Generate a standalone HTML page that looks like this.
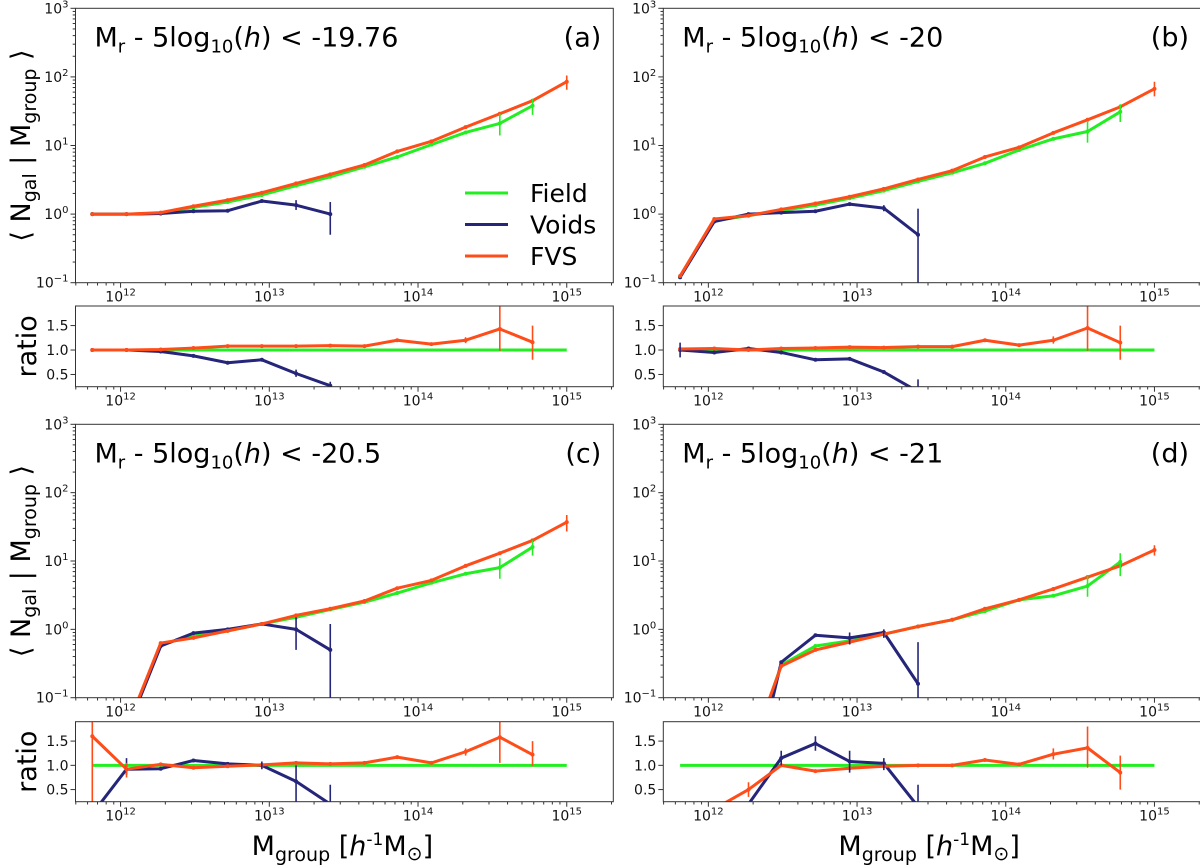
<!DOCTYPE html>
<html><head><meta charset="utf-8">
<style>
html,body{margin:0;padding:0;background:#fff;}
svg{display:block;font-family:"DejaVu Sans","Liberation Sans",sans-serif;}
</style></head>
<body>
<svg id="fig" width="1200" height="866" viewBox="0 0 1200 866" xmlns="http://www.w3.org/2000/svg"></svg>
<script>
// ---------- data ----------
const massBins = [11.81,12.04,12.27,12.49,12.72,12.95,13.18,13.41,13.64,13.86,14.09,14.32,14.55,14.77,15.00];
const xTickExps = [12,13,14,15];
const yTickExps = [-1,0,1,2,3];
const ratioTicks = [0.5,1.0,1.5];
const seriesNames = ["Field","Voids","FVS"];
const seriesColors = ["#22ee22","#25257a","#ff4d1a"];

// panel (a)
const aField = [1,1,1.02,1.25,1.5,1.9,2.6,3.5,4.9,6.8,10.3,15.5,21,38,null];
const aVoids = [1,1,1.02,1.1,1.12,1.55,1.35,1.0,null,null,null,null,null,null,null];
const aFVS   = [1,1,1.05,1.3,1.6,2.05,2.8,3.8,5.2,8.2,11.5,18.5,29,45,85];
const aRatioVoids = [1,1,0.97,0.88,0.74,0.8,0.52,0.27,null,null,null,null,null,null,null];
const aRatioFVS   = [1,1,1.01,1.04,1.08,1.08,1.08,1.09,1.08,1.2,1.12,1.2,1.43,1.16,null];
const aErrs = [["field",12,14,29],["field",13,28,48],["voids",6,1.15,1.6],["voids",7,0.5,1.5],["fvs",14,65,105]];
const aRatioErrs = [["voids",6,0.45,0.6],["voids",7,0.2,0.35],["fvs",11,1.14,1.26],["fvs",12,0.98,1.9],["fvs",13,0.8,1.5]];

// panel (b)
const bField = [0.12,0.8,0.95,1.12,1.35,1.7,2.2,3.0,4.0,5.5,8.6,12.5,16,31,null];
const bVoids = [0.12,0.78,1.0,1.05,1.1,1.4,1.22,0.5,null,null,null,null,null,null,null];
const bFVS   = [0.125,0.85,0.95,1.17,1.43,1.79,2.33,3.2,4.3,6.8,9.4,15.3,23.7,36.6,67];
const bRatioVoids = [1.0,0.95,1.03,0.95,0.8,0.82,0.55,0.15,null,null,null,null,null,null,null];
const bRatioFVS   = [1.02,1.03,1.0,1.03,1.04,1.06,1.05,1.07,1.07,1.2,1.1,1.2,1.45,1.15,null];
const bErrs = [["field",12,11,22],["field",13,22,40],["voids",6,1.1,1.35],["voids",7,0.1,1.2],["fvs",14,52,85]];
const bRatioErrs = [["voids",0,0.85,1.15],["voids",7,0.2,0.4],["fvs",11,1.13,1.28],["fvs",12,0.98,1.9],["fvs",13,0.8,1.5]];

// panel (c)
const cField = [0.012,0.035,0.6,0.8,0.95,1.2,1.5,1.95,2.5,3.4,4.8,6.5,8,16,null];
const cVoids = [0.01,0.032,0.57,0.88,1.0,1.2,1.0,0.5,null,null,null,null,null,null,null];
const cFVS   = [0.02,0.035,0.63,0.75,0.95,1.2,1.6,2.0,2.6,4.0,5.2,8.5,13,20,37];
const cRatioVoids = [0.0,0.92,0.93,1.1,1.03,1.0,0.67,0.2,null,null,null,null,null,null,null];
const cRatioFVS   = [1.6,0.92,1.02,0.95,0.98,1.01,1.05,1.03,1.05,1.17,1.05,1.28,1.58,1.22,null];
const cErrs = [["field",12,5.5,11],["field",13,12,20],["voids",6,0.5,1.5],["voids",7,0.05,1.2],["fvs",14,27,47]];
const cRatioErrs = [["voids",1,0.8,1.15],["voids",5,0.92,1.08],["voids",6,0.25,1.0],["voids",7,0.1,0.6],["fvs",0,0,2.0],["fvs",1,0.75,1.05],["fvs",11,1.2,1.35],["fvs",12,1.05,2.0],["fvs",13,0.98,1.5]];

// panel (d)
const dField = [null,null,0.012,0.3,0.57,0.68,0.85,1.1,1.38,1.85,2.7,3.1,4.3,9.7,null];
const dVoids = [null,null,0.003,0.33,0.82,0.75,0.9,0.16,null,null,null,null,null,null,null];
const dFVS   = [null,null,0.014,0.29,0.5,0.65,0.85,1.1,1.38,2.0,2.7,3.9,5.8,8.5,14.5];
const dRatioVoids = [null,null,0.2,1.15,1.45,1.08,1.04,0.15,null,null,null,null,null,null,null];
const dRatioFVS   = [null,0.1,0.5,1.0,0.88,0.94,0.98,1.0,1.0,1.11,1.02,1.23,1.36,0.85,null];
const dErrs = [["field",12,3,6],["field",13,6,13],["voids",5,0.6,0.9],["voids",6,0.75,1.0],["voids",7,0.05,0.65],["fvs",14,12,17]];
const dRatioErrs = [["voids",3,1.0,1.3],["voids",4,1.3,1.6],["voids",5,0.85,1.3],["voids",6,0.9,1.15],["voids",7,0.1,0.6],["fvs",2,0.35,0.65],["fvs",11,1.12,1.35],["fvs",12,0.95,1.8],["fvs",13,0.5,1.2]];

// ---------- drawing ----------
const NS = "http://www.w3.org/2000/svg";
const svg = document.getElementById("fig");
const XMIN = 11.697, XMAX = 15.313, RMIN = 0.25, RMAX = 1.9;
function mk(tag, attrs, parent) {
  const e = document.createElementNS(NS, tag);
  for (const k in attrs) e.setAttribute(k, attrs[k]);
  (parent || svg).appendChild(e);
  return e;
}
let clipId = 0;

function drawAxes(p, y0, y1, isRatio, g) {
  const xs = l => p.x0 + (l - XMIN) / (XMAX - XMIN) * (p.x1 - p.x0);
  const ys = isRatio ? (v => y1 - (v - RMIN) / (RMAX - RMIN) * (y1 - y0))
                     : (v => y1 - (Math.log10(v) + 1) / 4 * (y1 - y0));
  for (let d = 11; d <= 15; d++) {
    for (let m = 1; m <= 9; m++) {
      const l = d + Math.log10(m);
      if (l < XMIN || l > XMAX) continue;
      const t = mk("line", {x1: xs(l), x2: xs(l), y1: y1, y2: y1 + (m === 1 ? 5 : 2.8), stroke: "#333", "stroke-width": 1}, g);
      
      
    }
  }
  xTickExps.forEach(e => {
    const t = mk("text", {x: xs(e), y: y1 + 19, "text-anchor": "middle", "font-size": 14, fill: "#111"}, g);
    
    
    t.innerHTML = '10<tspan dy="-6" font-size="10">' + e + '</tspan>';
  });
  if (!isRatio) {
    for (let d = -1; d <= 2; d++) for (let m = 2; m <= 9; m++) {
      const v = m * Math.pow(10, d);
      const t = mk("line", {x1: p.x0 - 2.8, x2: p.x0, y1: ys(v), y2: ys(v), stroke: "#333", "stroke-width": 1}, g);
      
      
    }
    yTickExps.forEach(e => {
      const v = Math.pow(10, e);
      const t = mk("line", {x1: p.x0 - 5, x2: p.x0, y1: ys(v), y2: ys(v), stroke: "#333", "stroke-width": 1}, g);
      
      
      const tx = mk("text", {x: p.x0 - 7, y: ys(v) + 5, "text-anchor": "end", "font-size": 14, fill: "#111"}, g);
      
      
      tx.innerHTML = '10<tspan dy="-6" font-size="10">' + (e < 0 ? '\u22121' : e) + '</tspan>';
    });
  } else {
    ratioTicks.forEach(v => {
      const t = mk("line", {x1: p.x0 - 5, x2: p.x0, y1: ys(v), y2: ys(v), stroke: "#333", "stroke-width": 1}, g);
      
      
      const tx = mk("text", {x: p.x0 - 7, y: ys(v) + 5, "text-anchor": "end", "font-size": 14, fill: "#111"}, g);
      
      
      tx.textContent = v.toFixed(1);
    });
  }
  return {xs, ys};
}

function drawSeries(g, xs, ys, vals, color, name, isRatio) {
  let pts = [];
  const segs = [];
  vals.forEach((v, i) => {
    if (v === null || (!isRatio && v <= 0)) { if (pts.length) segs.push(pts); pts = []; return; }
    const yy = isRatio ? ys(v) : ys(Math.max(v, 1e-4));
    pts.push([xs(massBins[i]), yy]);
  });
  if (pts.length) segs.push(pts);
  segs.forEach(s => {
    const pl = mk("polyline", {points: s.map(q => q.join(",")).join(" "), fill: "none", stroke: color, "stroke-width": 3, "stroke-linejoin": "round"}, g);
    
    
    s.forEach(q => {
      const c = mk("circle", {cx: q[0], cy: q[1], r: 2, fill: color}, g);
      
      
    });
  });
}

function drawErrs(g, xs, ys, errs, isRatio) {
  errs.forEach(e => {
    const idx = {field: 0, voids: 1, fvs: 2}[e[0]];
    const lo = isRatio ? e[2] : Math.max(e[2], 1e-4);
    const l = mk("line", {x1: xs(massBins[e[1]]), x2: xs(massBins[e[1]]), y1: ys(lo), y2: ys(e[3]), stroke: seriesColors[idx], "stroke-width": 1.6}, g);
    
    
  });
}

function frame(p, y0, y1, name) {
  const r = mk("rect", {x: p.x0, y: y0, width: p.x1 - p.x0, height: y1 - y0, fill: "none", stroke: "#333", "stroke-width": 1});
  
  
}

function panel(p) {
  const g = mk("g", {});
  
  
  const m = drawAxes(p, p.y0, p.y1, false, g);
  const cid = "clip" + (clipId++);
  const cp = mk("clipPath", {id: cid}, g);
  mk("rect", {x: p.x0, y: p.y0, width: p.x1 - p.x0, height: p.y1 - p.y0}, cp);
  const mg = mk("g", {"clip-path": "url(#" + cid + ")"}, g);
  
  
  drawSeries(mg, m.xs, m.ys, p.field, seriesColors[0], "field", false);
  drawSeries(mg, m.xs, m.ys, p.voids, seriesColors[1], "voids", false);
  drawSeries(mg, m.xs, m.ys, p.fvs, seriesColors[2], "fvs", false);
  drawErrs(mg, m.xs, m.ys, p.errs, false);
  frame(p, p.y0, p.y1, 'main-axes-frame');
  const r = drawAxes(p, p.ry0, p.ry1, true, g);
  const cid2 = "clip" + (clipId++);
  const cp2 = mk("clipPath", {id: cid2}, g);
  mk("rect", {x: p.x0, y: p.ry0, width: p.x1 - p.x0, height: p.ry1 - p.ry0}, cp2);
  const rg = mk("g", {"clip-path": "url(#" + cid2 + ")"}, g);
  
  
  const ones = massBins.map(() => 1);
  const fl = mk("line", {x1: r.xs(massBins[0]), x2: r.xs(massBins[massBins.length - 1]), y1: r.ys(ones[0]), y2: r.ys(ones[0]), stroke: seriesColors[0], "stroke-width": 3}, rg);
  
  
  drawSeries(rg, r.xs, r.ys, p.rVoids, seriesColors[1], "voids-ratio", true);
  drawSeries(rg, r.xs, r.ys, p.rFVS, seriesColors[2], "fvs-ratio", true);
  drawErrs(rg, r.xs, r.ys, p.rErrs, true);
  frame(p, p.ry0, p.ry1, 'ratio-axes-frame');
  const t = mk("text", {x: p.x0 + 19, y: p.y0 + 38, "font-size": 27, fill: "#000"}, g);
  
  
  t.innerHTML = 'M<tspan dy="6" font-size="18">r</tspan><tspan dy="-6"> - 5log</tspan><tspan dy="6" font-size="18">10</tspan><tspan dy="-6">(</tspan><tspan font-style="italic">h</tspan>) &lt; ' + p.cut;
  const tg = mk("text", {x: p.x1 - 12, y: p.y0 + 38, "text-anchor": "end", "font-size": 27, fill: "#000"}, g);
  
  
  tg.textContent = '(' + p.tag + ')';
  if (p.yLabel) {
    const yl = mk("text", {x: 0, y: 0, "text-anchor": "middle", "font-size": 27, fill: "#000", transform: "translate(" + 30 + "," + ((p.y0 + p.y1) / 2) + ") rotate(-90)"}, g);
    
    
    yl.innerHTML = '\u27E8 N<tspan dy="6" font-size="19">gal</tspan><tspan dy="-6"> | M</tspan><tspan dy="6" font-size="19">group</tspan><tspan dy="-6"> \u27E9</tspan>';
    const rl = mk("text", {x: 0, y: 0, "text-anchor": "middle", "font-size": 27, fill: "#000", transform: "translate(" + 36 + "," + ((p.ry0 + p.ry1) / 2) + ") rotate(-90)"}, g);
    
    
    rl.textContent = 'ratio';
  }
  if (p.xLabel) {
    const xl = mk("text", {x: (p.x0 + Math.min(p.x1, 1199)) / 2 - 2, y: 855, "text-anchor": "middle", "font-size": 27, fill: "#000"}, g);
    
    
    xl.innerHTML = 'M<tspan dy="6" font-size="19">group</tspan><tspan dy="-6"> [</tspan><tspan font-style="italic">h</tspan><tspan dy="-10" font-size="17">-1</tspan><tspan dy="10">M</tspan><tspan dy="5" font-size="19">\u2299</tspan><tspan dy="-5">]</tspan>';
  }
  if (p.legend) {
    seriesNames.forEach((n, i) => {
      const ly = 193 + i * 31.5;
      const ll = mk("line", {x1: 465, x2: 508, y1: ly, y2: ly, stroke: seriesColors[i], "stroke-width": 3}, g);
      
      
      const lt = mk("text", {x: 530, y: ly + 9, "font-size": 25, fill: "#000"}, g);
      
      
      lt.textContent = n;
    });
  }
}

panel({tag: "a", cut: "-19.76", x0: 75.5, x1: 613.3, y0: 8.3, y1: 282.7, ry0: 306, ry1: 386.7,
  field: aField, voids: aVoids, fvs: aFVS, rVoids: aRatioVoids, rFVS: aRatioFVS, errs: aErrs, rErrs: aRatioErrs,
  yLabel: true, xLabel: false, legend: true});
panel({tag: "b", cut: "-20", x0: 663.3, x1: 1201, y0: 8.3, y1: 282.7, ry0: 306, ry1: 386.7,
  field: bField, voids: bVoids, fvs: bFVS, rVoids: bRatioVoids, rFVS: bRatioFVS, errs: bErrs, rErrs: bRatioErrs,
  yLabel: false, xLabel: false, legend: false});
panel({tag: "c", cut: "-20.5", x0: 75.5, x1: 613.3, y0: 424.3, y1: 697.7, ry0: 721.7, ry1: 801.7,
  field: cField, voids: cVoids, fvs: cFVS, rVoids: cRatioVoids, rFVS: cRatioFVS, errs: cErrs, rErrs: cRatioErrs,
  yLabel: true, xLabel: true, legend: false});
panel({tag: "d", cut: "-21", x0: 663.3, x1: 1201, y0: 424.3, y1: 697.7, ry0: 721.7, ry1: 801.7,
  field: dField, voids: dVoids, fvs: dFVS, rVoids: dRatioVoids, rFVS: dRatioFVS, errs: dErrs, rErrs: dRatioErrs,
  yLabel: false, xLabel: true, legend: false});
</script>
</body></html>
